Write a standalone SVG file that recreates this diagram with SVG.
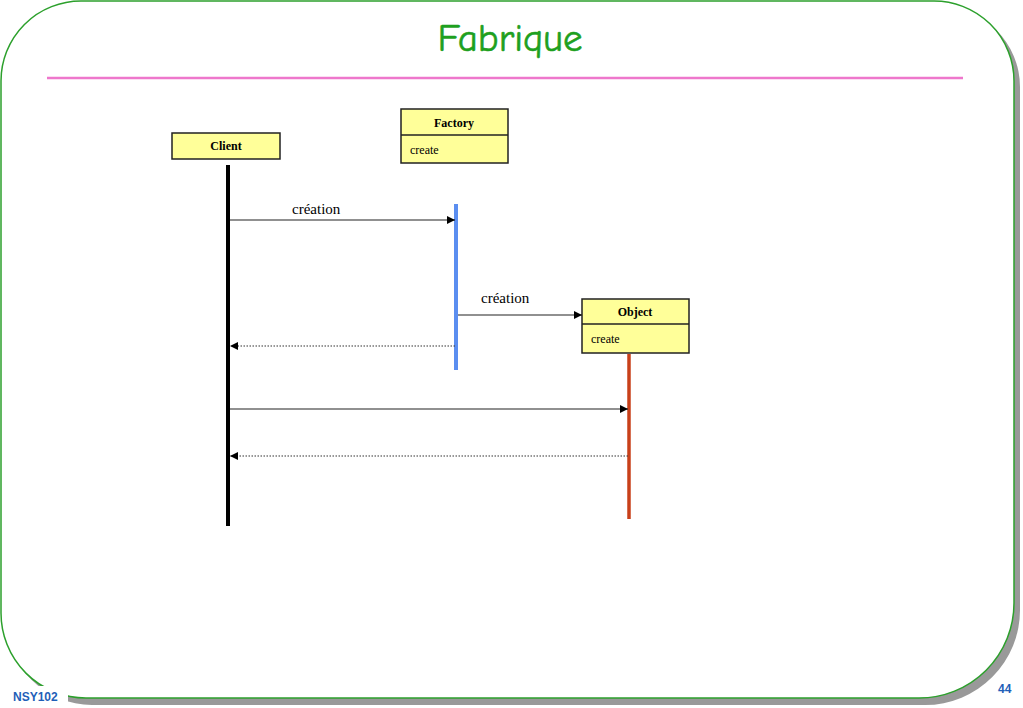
<svg xmlns="http://www.w3.org/2000/svg" width="1023" height="708" viewBox="0 0 1023 708">
<style>
.box{fill:#ffff99;stroke:#222;stroke-width:1.5}
.name{font-family:"Liberation Serif","Times New Roman",serif;font-weight:bold;font-size:12px;fill:#000;text-anchor:middle}
.op{font-family:"Liberation Serif","Times New Roman",serif;font-size:12px;fill:#000}
.lbl{font-family:"Liberation Serif","Times New Roman",serif;font-size:15px;fill:#000}
.msg{stroke:#222;stroke-width:1.2;fill:none}
.ret{stroke:#333;stroke-width:1.2;fill:none;stroke-dasharray:1.5 1.5}
.foot{font-family:"Liberation Sans",sans-serif;font-weight:bold;font-size:12px;fill:#1f5fb8}
</style>
<defs>
<marker id="ah" viewBox="0 0 10 10" refX="10" refY="5" markerWidth="8" markerHeight="8" markerUnits="userSpaceOnUse" orient="auto">
<path d="M0,0 L10,5 L0,10 Z" fill="#000"/>
</marker>
</defs>
<rect width="1023" height="708" fill="#fff"/>
<g id="frame">
<path d="M7,87 A80,80 0 0 1 87,7 L939,7 A80,80 0 0 1 1020,87 L1020,609 A95,95 0 0 1 925,705 L92,705 A85,85 0 0 1 7,619 Z" fill="#999"/>
<path d="M1,81 A80,80 0 0 1 81,1 L933,1 A80,80 0 0 1 1014,81 L1014,603 A95,95 0 0 1 919,698 L86,698 A85,85 0 0 1 1,613 Z" fill="#fff" stroke="#2ca02c" stroke-width="1.5"/>
<rect x="0" y="686" width="68" height="22" fill="#fff"/>
<line x1="47" y1="78" x2="963" y2="78" stroke="#ee77cc" stroke-width="2.5"/>
<text x="510" y="51" font-family="'Comic Neue','Comic Sans MS','DejaVu Sans',sans-serif" font-size="39" fill="#1ea01e" stroke="#1ea01e" stroke-width="0.6" text-anchor="middle">Fabrique</text>
<text class="foot" x="13" y="701">NSY102</text>
<text class="foot" x="998" y="693">44</text>
</g>
<g id="client">
<rect class="box" x="172" y="133" width="108" height="26"/>
<text class="name" x="226" y="150">Client</text>
<line x1="228" y1="165" x2="228" y2="526" stroke="#000" stroke-width="4"/>
</g>
<g id="factory">
<rect class="box" x="401" y="109" width="107" height="54"/>
<line x1="401" y1="135" x2="508" y2="135" stroke="#222" stroke-width="1.5"/>
<text class="name" x="454" y="127">Factory</text>
<text class="op" x="410" y="154">create</text>
<line x1="456" y1="204" x2="456" y2="370" stroke="#5b8ef0" stroke-width="4"/>
</g>
<g id="object">
<rect class="box" x="582" y="299" width="107" height="54"/>
<line x1="582" y1="324" x2="689" y2="324" stroke="#222" stroke-width="1.5"/>
<text class="name" x="635" y="316">Object</text>
<text class="op" x="591" y="343">create</text>
<line x1="629" y1="354" x2="629" y2="519" stroke="#c8401a" stroke-width="3.5"/>
</g>
<g id="connectors">
<line class="msg" x1="230" y1="220" x2="455" y2="220" marker-end="url(#ah)"/>
<text class="lbl" x="292" y="214">création</text>
<line class="msg" x1="458" y1="315" x2="582" y2="315" marker-end="url(#ah)"/>
<text class="lbl" x="481" y="303">création</text>
<line class="ret" x1="455" y1="346" x2="230" y2="346" marker-end="url(#ah)"/>
<line class="msg" x1="230" y1="409" x2="628" y2="409" marker-end="url(#ah)"/>
<line class="ret" x1="628" y1="456" x2="230" y2="456" marker-end="url(#ah)"/>
</g>
</svg>
